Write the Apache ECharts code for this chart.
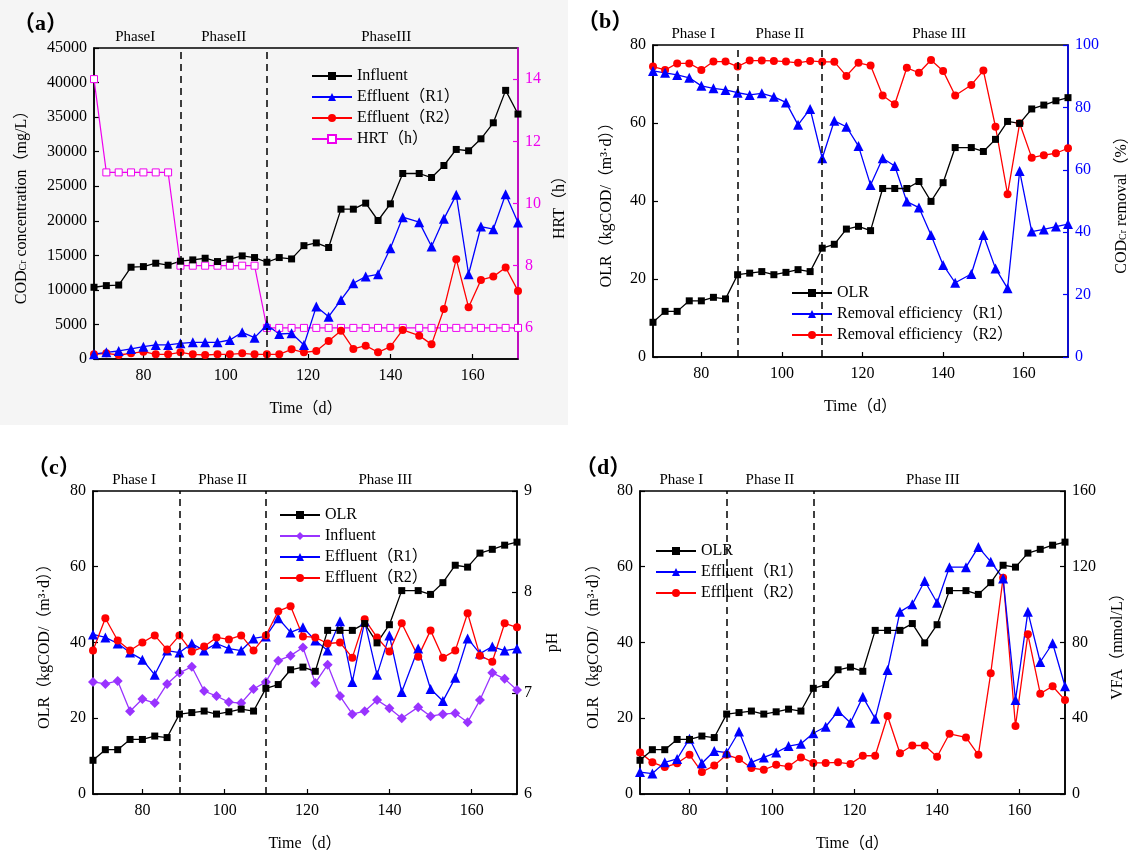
<!DOCTYPE html>
<html>
<head>
<meta charset="utf-8">
<title>COD, OLR, pH and VFA</title>
<script src="https://cdn.jsdelivr.net/npm/echarts@6/dist/echarts.min.js"></script>
<style>
  html, body { margin: 0; padding: 0; background: #fff; }
  #main { width: 1131px; height: 853px; }
</style>
</head>
<body>
<div id="main"></div>
<script>
// sampling days (d)
const days = [68, 71, 74, 77, 80, 83, 86, 89, 92, 95, 98, 101, 104, 107, 110, 113, 116, 119, 122, 125,
  128, 131, 134, 137, 140, 143, 147, 150, 153, 156, 159, 162, 165, 168, 171];
const xTicks = [80, 100, 120, 140, 160];
const phaseBreaks = [89, 110];

// (a) COD concentration (mg/L) and HRT (h)
const codInfluent = [10380, 10620, 10700, 13280, 13370, 13860, 13570, 14150, 14340, 14580, 14100, 14440, 14920, 14680, 14000, 14680, 14480, 16400, 16800, 16130,
  21680, 21680, 22550, 20040, 22450, 26840, 26840, 26260, 28000, 30320, 30130, 31860, 34180, 38870, 35440];
const codR1 = [700, 960, 1160, 1450, 1790, 2030, 2030, 2270, 2410, 2410, 2410, 2750, 3860, 3090, 4920, 3620, 3720, 2030, 7580, 6130,
  8550, 10960, 11920, 12260, 16030, 20520, 19800, 16270, 20280, 23750, 12260, 19170, 18780, 23850, 19750];
const codR2 = [680, 820, 580, 820, 1060, 680, 680, 970, 680, 580, 680, 680, 820, 680, 680, 680, 1400, 970, 1160, 2600,
  4100, 1450, 1930, 970, 1790, 4200, 3380, 2120, 7240, 14440, 7480, 11440, 11920, 13230, 9850];
const hrt = [14, 11, 11, 11, 11, 11, 11, 8, 8, 8, 8, 8, 8, 8, 6, 6, 6, 6, 6, 6,
  6, 6, 6, 6, 6, 6, 6, 6, 6, 6, 6, 6, 6, 6, 6];

// OLR (kgCOD/(m3.d)), shared by (b) (c) (d)
const olr = [8.9, 11.7, 11.7, 14.4, 14.4, 15.3, 14.9, 21.1, 21.5, 21.9, 21.1, 21.7, 22.4, 21.9, 27.9, 28.9, 32.8, 33.5, 32.4, 43.2,
  43.2, 43.2, 45.0, 39.9, 44.7, 53.7, 53.7, 52.7, 55.8, 60.4, 59.9, 63.6, 64.6, 65.7, 66.5];

// (b) COD removal (%)
const remR1 = [91.7, 91.1, 90.4, 89.5, 86.9, 86.1, 85.6, 84.7, 84.0, 84.5, 83.4, 81.6, 74.4, 79.5, 63.7, 75.7, 73.8, 67.6, 55.1, 63.7,
  61.2, 49.8, 47.9, 39.1, 29.5, 23.8, 26.6, 39.1, 28.4, 22.0, 59.6, 40.2, 40.9, 41.8, 42.6];
const remR2 = [93.1, 92.0, 94.1, 94.1, 92.0, 94.7, 94.7, 93.1, 95.0, 95.0, 94.9, 94.7, 94.3, 94.9, 94.6, 94.6, 90.1, 94.3, 93.4, 83.8,
  81.0, 92.7, 91.1, 95.2, 91.7, 83.8, 87.2, 91.8, 73.8, 52.2, 74.9, 63.9, 64.7, 65.3, 66.9];

// (c) pH
const phInf = [7.11, 7.09, 7.12, 6.82, 6.94, 6.90, 7.09, 7.20, 7.26, 7.02, 6.97, 6.91, 6.90, 7.04, 7.11, 7.32, 7.37, 7.45, 7.10, 7.28,
  6.97, 6.79, 6.82, 6.93, 6.85, 6.75, 6.86, 6.77, 6.79, 6.80, 6.71, 6.93, 7.20, 7.14, 7.03];
const phR1 = [7.58, 7.55, 7.49, 7.40, 7.33, 7.18, 7.42, 7.40, 7.49, 7.42, 7.49, 7.44, 7.42, 7.54, 7.56, 7.74, 7.60, 7.65, 7.52, 7.42,
  7.71, 7.11, 7.71, 7.18, 7.57, 7.01, 7.44, 7.04, 6.92, 7.15, 7.54, 7.39, 7.46, 7.42, 7.44];
const phR2 = [7.42, 7.74, 7.52, 7.42, 7.50, 7.57, 7.43, 7.57, 7.41, 7.46, 7.55, 7.53, 7.57, 7.42, 7.57, 7.81, 7.86, 7.56, 7.55, 7.49,
  7.50, 7.35, 7.73, 7.55, 7.41, 7.69, 7.36, 7.62, 7.35, 7.42, 7.79, 7.37, 7.31, 7.69, 7.65];

// (d) VFA (mmol/L)
const vfaR1 = [11.6, 10.8, 16.7, 18.5, 29.2, 16.2, 22.7, 21.9, 33.0, 16.7, 19.3, 21.9, 25.3, 26.5, 32.1, 35.5, 43.8, 37.6, 51.3, 39.8,
  65.5, 96.2, 100.2, 112.5, 101.0, 119.8, 119.8, 130.4, 122.7, 113.8, 49.6, 96.2, 69.7, 79.6, 56.9];
const vfaR2 = [21.9, 16.7, 14.2, 16.2, 20.7, 11.6, 15.0, 20.7, 18.5, 13.7, 12.8, 15.4, 14.5, 19.3, 16.4, 16.4, 16.7, 15.9, 20.2, 20.2,
  41.2, 21.5, 25.6, 25.6, 19.7, 31.8, 29.9, 20.7, 63.7, 114.2, 35.9, 84.3, 53.0, 56.9, 49.6];

const FONT = '"Liberation Serif", "Times New Roman", "Noto Sans CJK SC", serif';
const BLUE = '#0000ff', RED = '#ff0000', PURPLE = '#9933ff', MAGENTA = '#ee00ee';

const chart = echarts.init(document.getElementById('main'));

function pairs(arr) {
  return days.map((d, i) => [d, arr[i]]);
}

function txt(size, color) {
  return { fontFamily: FONT, fontSize: size, color: color || '#000' };
}

const subRich = { s: { fontFamily: FONT, fontSize: 10, color: '#000', padding: [0, 0, -3, 0] } };

function xAxis(gi) {
  return {
    type: 'value', gridIndex: gi, min: 68, max: 171,
    axisLine: { lineStyle: { color: '#000', width: 1.5 } },
    axisTick: { inside: true, length: 5, customValues: xTicks, lineStyle: { color: '#000', width: 1.2 } },
    axisLabel: Object.assign({ customValues: xTicks, margin: 9 }, txt(16)),
    splitLine: { show: false },
    name: 'Time（d）', nameLocation: 'middle', nameGap: 42,
    nameTextStyle: txt(16)
  };
}

function yAxis(gi, pos, min, max, interval, color, name, gap, custom) {
  const ax = {
    type: 'value', gridIndex: gi, position: pos, min: min, max: max,
    axisLine: { show: true, lineStyle: { color: color, width: 1.5 } },
    axisTick: { show: true, inside: true, length: 5, lineStyle: { color: color, width: 1.2 } },
    axisLabel: Object.assign({ margin: 7, formatter: v => String(v) }, txt(16, color)),
    splitLine: { show: false },
    name: name, nameLocation: 'middle', nameRotate: 90, nameGap: gap,
    nameTextStyle: Object.assign({ rich: subRich }, txt(16))
  };
  if (custom) {
    ax.axisTick.customValues = custom;
    ax.axisLabel.customValues = custom;
  } else {
    ax.interval = interval;
  }
  return ax;
}

function line(name, data, xi, yi, color, symbol, size, extra) {
  return Object.assign({
    type: 'line', name: name, data: pairs(data), xAxisIndex: xi, yAxisIndex: yi,
    symbol: symbol, symbolSize: size, showAllSymbol: true,
    lineStyle: { color: color, width: 1.3 },
    itemStyle: { color: color },
    emphasis: { disabled: true },
    animation: false, z: 3
  }, extra || {});
}

function phaseLines() {
  return {
    silent: true, symbol: 'none', label: { show: false },
    lineStyle: { color: '#000', type: [7, 5], width: 1.5 },
    data: phaseBreaks.map(d => ({ xAxis: d }))
  };
}

function legend(names, left, top) {
  return {
    data: names, left: left, top: top, orient: 'vertical',
    itemWidth: 40, itemHeight: 10, itemGap: 5,
    textStyle: txt(16),
    formatter: n => n.split('#')[0],
    selectedMode: false
  };
}

const option = {
  backgroundColor: '#fff',
  animation: false,
  title: [
    { text: '（a）', left: 8, top: 8, textStyle: { fontFamily: FONT, fontSize: 22, fontWeight: 'bold', color: '#000' } },
    { text: '（b）', left: 572, top: 6, textStyle: { fontFamily: FONT, fontSize: 22, fontWeight: 'bold', color: '#000' } },
    { text: '（c）', left: 22, top: 452, textStyle: { fontFamily: FONT, fontSize: 22, fontWeight: 'bold', color: '#000' } },
    { text: '（d）', left: 570, top: 452, textStyle: { fontFamily: FONT, fontSize: 22, fontWeight: 'bold', color: '#000' } }
  ],
  grid: [
    { left: 94, top: 48, width: 424, height: 311, show: true, borderColor: '#000', borderWidth: 1.5 },
    { left: 653, top: 45, width: 424, height: 312, show: true, borderColor: '#000', borderWidth: 1.5 },
    { left: 93, top: 491, width: 424, height: 312, show: true, borderColor: '#000', borderWidth: 1.5 },
    { left: 640, top: 491, width: 425, height: 312, show: true, borderColor: '#000', borderWidth: 1.5 }
  ],
  xAxis: [xAxis(0), xAxis(1), xAxis(2), xAxis(3)],
  yAxis: [
    yAxis(0, 'left', 0, 45000, 5000, '#000', 'COD{s|Cr} concentration（mg/L）', 64),
    yAxis(0, 'right', 5, 15, null, MAGENTA, 'HRT（h）', 34, [6, 8, 10, 12, 14]),
    yAxis(1, 'left', 0, 80, 20, '#000', 'OLR（kgCOD/（m³·d））', 38),
    yAxis(1, 'right', 0, 100, 20, BLUE, 'COD{s|Cr} removal（%）', 46),
    yAxis(2, 'left', 0, 80, 20, '#000', 'OLR（kgCOD/（m³·d））', 40),
    yAxis(2, 'right', 6, 9, 1, '#000', 'pH', 28),
    yAxis(3, 'left', 0, 80, 20, '#000', 'OLR（kgCOD/（m³·d））', 38),
    yAxis(3, 'right', 0, 160, 40, '#000', 'VFA（mmol/L）', 45)
  ],
  legend: [
    legend(['Influent#a', 'Effluent（R1）#a', 'Effluent（R2）#a', 'HRT（h）#a'], 306, 63),
    legend(['OLR#b', 'Removal efficiency（R1）#b', 'Removal efficiency（R2）#b'], 786, 280),
    legend(['OLR#c', 'Influent#c', 'Effluent（R1）#c', 'Effluent（R2）#c'], 274, 502),
    legend(['OLR#d', 'Effluent（R1）#d', 'Effluent（R2）#d'], 650, 538)
  ],
  series: [
    // (a)
    line('HRT（h）#a', hrt, 0, 1, MAGENTA, 'rect', 7, { itemStyle: { color: '#fff', borderColor: MAGENTA, borderWidth: 1 }, lineStyle: { color: MAGENTA, width: 1.2 }, markLine: phaseLines() }),
    line('Effluent（R2）#a', codR2, 0, 0, RED, 'circle', 8),
    line('Effluent（R1）#a', codR1, 0, 0, BLUE, 'triangle', 10),
    line('Influent#a', codInfluent, 0, 0, '#000', 'rect', 7),
    // (b)
    line('Removal efficiency（R2）#b', remR2, 1, 3, RED, 'circle', 8, { markLine: phaseLines() }),
    line('Removal efficiency（R1）#b', remR1, 1, 3, BLUE, 'triangle', 10),
    line('OLR#b', olr, 1, 2, '#000', 'rect', 7),
    // (c)
    line('Influent#c', phInf, 2, 5, PURPLE, 'diamond', 10, { markLine: phaseLines() }),
    line('Effluent（R1）#c', phR1, 2, 5, BLUE, 'triangle', 10),
    line('Effluent（R2）#c', phR2, 2, 5, RED, 'circle', 8),
    line('OLR#c', olr, 2, 4, '#000', 'rect', 7),
    // (d)
    line('Effluent（R2）#d', vfaR2, 3, 7, RED, 'circle', 8, { markLine: phaseLines() }),
    line('Effluent（R1）#d', vfaR1, 3, 7, BLUE, 'triangle', 10),
    line('OLR#d', olr, 3, 6, '#000', 'rect', 7)
  ]
};

chart.setOption(option);

// phase labels above each plot, placed through the x scales
const phaseDays = [78, 99.5, 139];
const phaseNames = [
  ['PhaseI', 'PhaseII', 'PhaseIII'],
  ['Phase I', 'Phase II', 'Phase III'],
  ['Phase I', 'Phase II', 'Phase III'],
  ['Phase I', 'Phase II', 'Phase III']
];
const graphic = [
  { type: 'rect', shape: { x: 0, y: 0, width: 568, height: 425 }, style: { fill: '#f5f5f5' }, z: -10, silent: true }
];
for (let g = 0; g < 4; g++) {
  const top = option.grid[g].top;
  phaseDays.forEach((d, i) => {
    const p = chart.convertToPixel({ gridIndex: g }, [d, 0]);
    graphic.push({
      type: 'text', x: p[0], y: top - 11, silent: true,
      style: { text: phaseNames[g][i], fontFamily: FONT, fontSize: 15, fill: '#000', align: 'center', verticalAlign: 'middle' }
    });
  });
}
chart.setOption({ graphic: graphic });
</script>
</body>
</html>
